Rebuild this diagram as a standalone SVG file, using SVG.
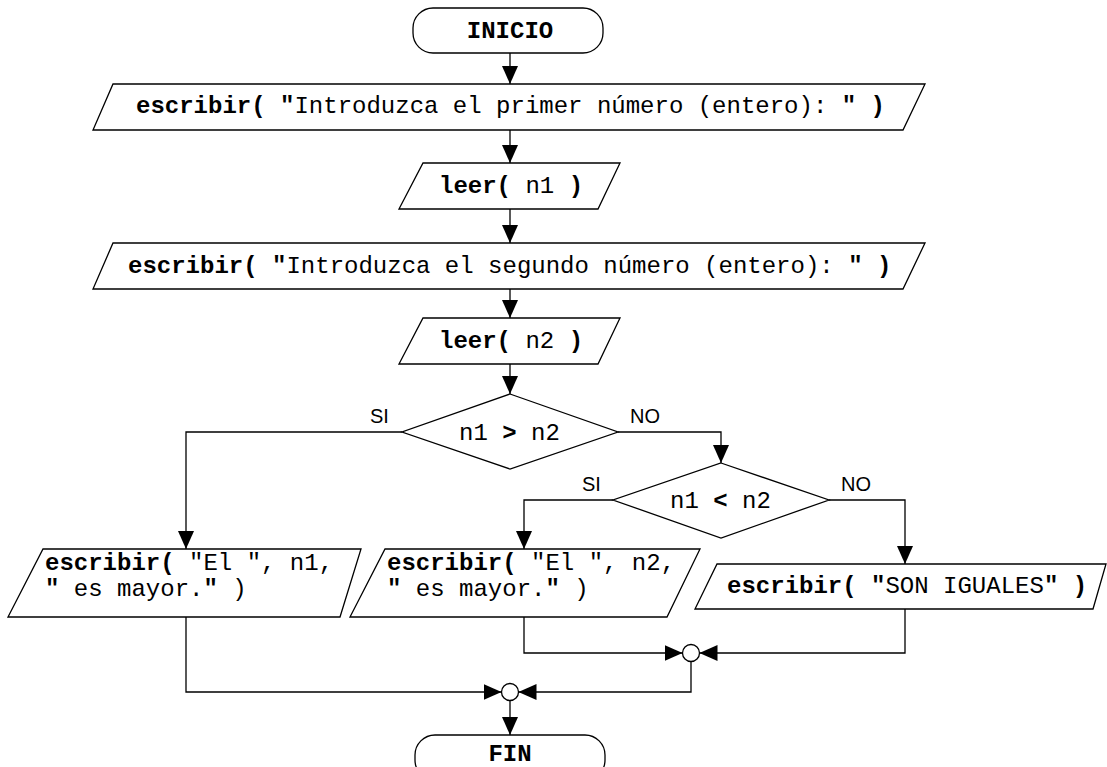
<svg xmlns="http://www.w3.org/2000/svg" width="1107" height="767" viewBox="0 0 1107 767">
<style>
.s{fill:#fff;stroke:#000;stroke-width:1.3}
.c{fill:none;stroke:#000;stroke-width:1.3}
.t{font-family:"Liberation Mono","Courier New",monospace;font-size:24px;fill:#000}
.b{font-weight:bold}
.l{font-family:"Liberation Sans",Arial,sans-serif;font-size:20px;fill:#000}
</style>
<defs>
<marker id="ah" viewBox="0 0 18 16" refX="18" refY="8" markerWidth="18" markerHeight="16" markerUnits="userSpaceOnUse" orient="auto">
<path d="M0,0 L18,8 L0,16 z" fill="#000"/>
</marker>
</defs>
<rect width="1107" height="767" fill="#fff"/>
<g id="connectors">
<path class="c" d="M510,53 V84" marker-end="url(#ah)"/>
<path class="c" d="M510,130 V163" marker-end="url(#ah)"/>
<path class="c" d="M510,209 V243" marker-end="url(#ah)"/>
<path class="c" d="M510,289 V318" marker-end="url(#ah)"/>
<path class="c" d="M510,364 V394" marker-end="url(#ah)"/>
<path class="c" d="M402,432 H186 V549" marker-end="url(#ah)"/>
<path class="c" d="M618,432 H721 V463" marker-end="url(#ah)"/>
<path class="c" d="M613,500 H524 V549" marker-end="url(#ah)"/>
<path class="c" d="M829,500 H905 V564" marker-end="url(#ah)"/>
<path class="c" d="M524,617 V653 H682.5" marker-end="url(#ah)"/>
<path class="c" d="M905,609 V653 H699.5" marker-end="url(#ah)"/>
<path class="c" d="M691,661.5 V692 H518.5" marker-end="url(#ah)"/>
<path class="c" d="M186,617 V692 H501.5" marker-end="url(#ah)"/>
<path class="c" d="M510,700.5 V735" marker-end="url(#ah)"/>
<text class="l" x="370" y="423">SI</text>
<text class="l" x="630" y="423">NO</text>
<text class="l" x="582" y="491">SI</text>
<text class="l" x="841" y="491">NO</text>
</g>
<g id="inicio">
<rect class="s" x="413" y="8" width="190" height="45" rx="20" ry="20"/>
<text class="t b" x="510" y="38" text-anchor="middle">INICIO</text>
</g>
<g id="escribir1">
<polygon class="s" points="113,84 925,84 903,130 93,130"/>
<text class="t" x="136" y="113"><tspan class="b">escribir( "</tspan>Introduzca el primer número (entero): <tspan class="b">" )</tspan></text>
</g>
<g id="leer1">
<polygon class="s" points="423,163 620,163 598,209 399,209"/>
<text class="t" x="439" y="193"><tspan class="b">leer(</tspan> n1 <tspan class="b">)</tspan></text>
</g>
<g id="escribir2">
<polygon class="s" points="113,243 925,243 903,289 93,289"/>
<text class="t" x="128" y="273"><tspan class="b">escribir( "</tspan>Introduzca el segundo número (entero): <tspan class="b">" )</tspan></text>
</g>
<g id="leer2">
<polygon class="s" points="423,318 620,318 598,364 399,364"/>
<text class="t" x="439" y="348"><tspan class="b">leer(</tspan> n2 <tspan class="b">)</tspan></text>
</g>
<g id="decision1">
<polygon class="s" points="510,394 618,432 510,469 402,432"/>
<text class="t" x="459" y="440">n1 <tspan class="b">&gt;</tspan> n2</text>
</g>
<g id="decision2">
<polygon class="s" points="721,463 829,500 721,538 613,500"/>
<text class="t" x="670" y="508">n1 <tspan class="b">&lt;</tspan> n2</text>
</g>
<g id="mayor1">
<polygon class="s" points="43,549 361,549 340,617 8,617"/>
<text class="t" x="45" y="570"><tspan class="b">escribir(</tspan> "El ", n1,</text>
<text class="t" x="45" y="596"><tspan class="b">"</tspan> es mayor.<tspan class="b">"</tspan> )</text>
</g>
<g id="mayor2">
<polygon class="s" points="385,549 700,549 667,617 350,617"/>
<text class="t" x="387" y="570"><tspan class="b">escribir(</tspan> "El ", n2,</text>
<text class="t" x="387" y="596"><tspan class="b">"</tspan> es mayor.<tspan class="b">"</tspan> )</text>
</g>
<g id="iguales">
<polygon class="s" points="717,564 1106,564 1093,609 695,609"/>
<text class="t" x="727" y="593"><tspan class="b">escribir( "</tspan>SON IGUALES<tspan class="b">" )</tspan></text>
</g>
<g id="junction1">
<circle class="s" cx="691" cy="653" r="8.5"/>
</g>
<g id="junction2">
<circle class="s" cx="510" cy="692" r="8.5"/>
</g>
<g id="fin">
<rect class="s" x="415" y="735" width="190" height="45" rx="20" ry="20"/>
<text class="t b" x="510" y="761" text-anchor="middle">FIN</text>
</g>
</svg>
